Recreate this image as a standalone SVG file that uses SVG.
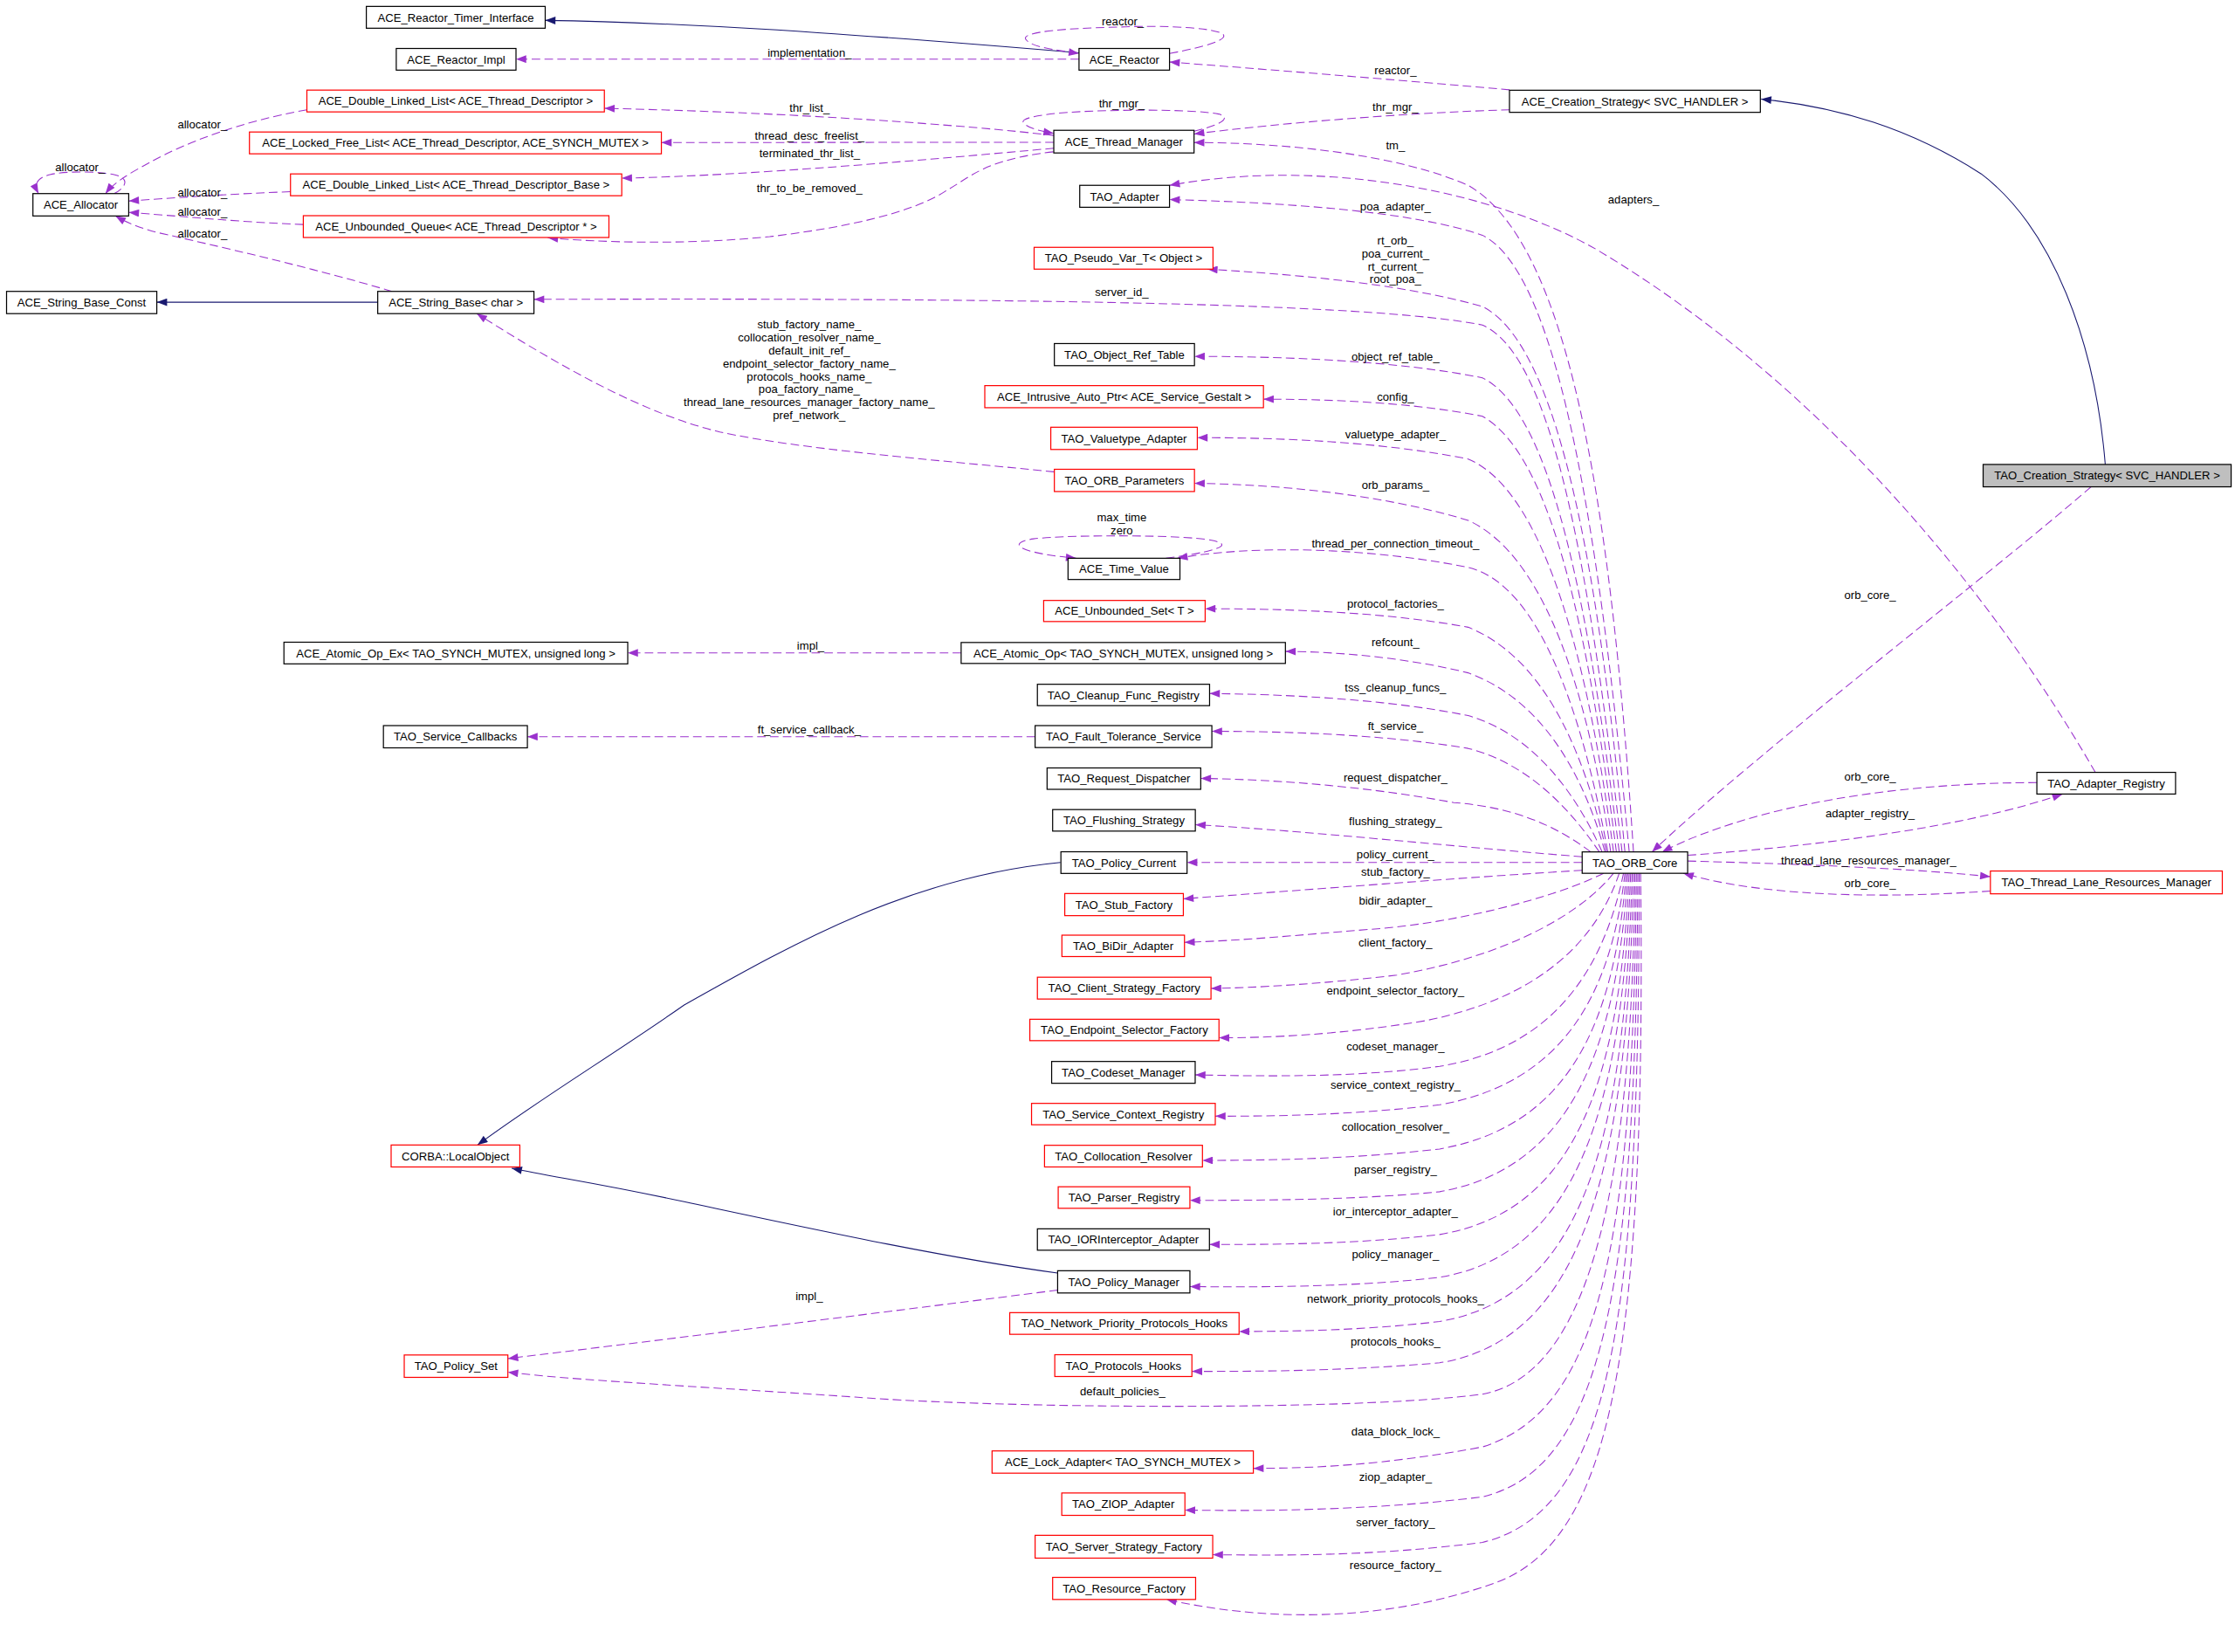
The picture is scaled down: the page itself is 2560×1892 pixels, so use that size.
<svg xmlns="http://www.w3.org/2000/svg" width="2560" height="1892" viewBox="0 0 2560 1892">
<defs>
<style>
.b{fill:#ffffff;stroke:#000000;stroke-width:0.75}
.r{fill:#ffffff;stroke:#ff0000;stroke-width:0.75}
.g{fill:#bfbfbf;stroke:#000000;stroke-width:0.75}
text{font-family:"Liberation Sans",Arial,sans-serif;font-size:8.05px;fill:#000000}
.t{text-anchor:middle}
.d{fill:none;stroke:#9a32cd;stroke-width:0.65;stroke-dasharray:6,3;marker-end:url(#ad)}
.s{fill:none;stroke:#191970;stroke-width:0.65;marker-end:url(#as)}
</style>
<marker id="ad" viewBox="0 0 8 6" refX="8" refY="3" markerWidth="8" markerHeight="5.4" markerUnits="userSpaceOnUse" orient="auto"><path d="M0,0 L8,3 L0,6 z" fill="#9a32cd"/></marker>
<marker id="as" viewBox="0 0 8 6" refX="8" refY="3" markerWidth="8" markerHeight="5.4" markerUnits="userSpaceOnUse" orient="auto"><path d="M0,0 L8,3 L0,6 z" fill="#191970"/></marker>
</defs>
<rect x="0" y="0" width="2560" height="1892" fill="#ffffff"/>
<g transform="scale(1.63265)">
<g id="connectors">
<path class="s" d="M757,37 C650,28 500,16 382.5,14.3"/>
<path class="s" d="M265,212 L110,212"/>
<path class="s" d="M1477,326 C1470,240 1440,160 1390,122 C1340,90 1290,75 1235.5,69.5"/>
<path class="s" d="M744,605 C640,615 560,660 480,705 C430,740 380,770 335,803.2"/>
<path class="s" d="M742,893 C660,882 560,860 480,843 C420,830 390,826 359,819.5"/>
<path class="d" d="M757,41.5 L362,41.5"/>
<path class="d" d="M820.5,37.5 C845,33 862,28 858,24 C850,18 800,18 785,19 C740,20 715,23 720,28 C724,33 740,35 757,37.5"/>
<path class="d" d="M1059,63 C980,56 880,48 820.5,43.5"/>
<path class="d" d="M1059,77 C990,79 900,86 837.7,94"/>
<path class="d" d="M837.7,92 C855,88 865,83 855,80 C840,77 800,77 785,77.5 C740,78 715,82 718,86 C721,90 730,92 739.3,93.5"/>
<path class="d" d="M739.3,95 C680,88 560,79 424,76"/>
<path class="d" d="M739.3,99.8 L464,100"/>
<path class="d" d="M739.3,104 C650,112 530,123 436.2,125"/>
<path class="d" d="M739,106.5 C690,112 680,125 665,133 C640,150 590,160 540,166 C480,172 420,170 384.3,166.8"/>
<path class="d" d="M1146,597.6 C1130,350 1100,170 1030,130 C980,108 900,100 837.7,100"/>
<path class="d" d="M215.3,77 C170,85 130,100 105,114 C90,122 80,128 74,135.8"/>
<path class="d" d="M80,135.8 C88,132 92,125 80,122.5 C68,120 45,120 35,122.5 C25,125 24,130 27,135.8"/>
<path class="d" d="M203.8,134.5 C160,136 120,139 90.3,141"/>
<path class="d" d="M212.8,157.5 C170,156 120,151 90.3,149"/>
<path class="d" d="M275,204.4 C220,188 150,172 110,163 C95,159 87,155 81,151.5"/>
<path class="d" d="M1470,541.8 C1400,420 1280,270 1120,175 C1050,135 930,110 820.5,130"/>
<path class="d" d="M1143,597.6 C1120,350 1090,190 1040,165 C990,148 900,142 820.5,140"/>
<path class="d" d="M1140,597.6 C1120,380 1090,240 1040,215 C980,198 900,192 847,188.8"/>
<path class="d" d="M1138,597.6 C1115,400 1090,250 1040,228 C960,212 700,209 374.6,210"/>
<path class="d" d="M739.7,331 C650,322 560,315 505,303 C450,290 390,255 334.5,220"/>
<path class="d" d="M1136,597.6 C1115,430 1090,290 1040,265 C980,253 900,250 838,250"/>
<path class="d" d="M1134,597.6 C1115,450 1090,320 1040,292 C990,282 930,280 886.4,280"/>
<path class="d" d="M1132,597.6 C1115,470 1085,345 1030,322 C970,310 900,307 840,307"/>
<path class="d" d="M1130,597.6 C1115,490 1085,390 1030,365 C970,347 900,340 838,339"/>
<path class="d" d="M1128,597.6 C1110,500 1080,410 1030,398 C960,384 880,382 826,391.6"/>
<path class="d" d="M818,391.6 C845,388 870,383 850,379 C830,375 750,375 725,378 C705,381 715,388 755,391.6"/>
<path class="d" d="M1127,597.6 C1110,520 1080,460 1030,440 C970,429 900,427 845.5,427"/>
<path class="d" d="M1126,597.6 C1110,540 1080,490 1030,472 C990,462 940,457 901.8,457"/>
<path class="d" d="M1124,597.6 C1105,555 1075,515 1030,502 C970,490 900,487 848.6,486.5"/>
<path class="d" d="M674.3,458 L440.4,458"/>
<path class="d" d="M1122,597.6 C1100,565 1070,535 1030,525 C970,515 900,513 850.2,513"/>
<path class="d" d="M726.2,516.8 L370,516.8"/>
<path class="d" d="M1116,597.6 C1090,578 1060,566 1020,563 C960,552 900,547 842.4,546"/>
<path class="d" d="M1110,601 C1020,594 920,583 838.6,578.5"/>
<path class="d" d="M1110,605 L832.8,605"/>
<path class="d" d="M1110,610.5 C1020,616 920,624 830.2,630.5"/>
<path class="d" d="M1125,612.6 C1090,630 1020,648 960,652 C910,656 870,660 831,661"/>
<path class="d" d="M1132,612.6 C1110,640 1060,670 980,684 C930,690 880,693 849.6,693.4"/>
<path class="d" d="M1136,612.6 C1120,660 1080,700 1000,716 C940,726 890,728 855.2,728"/>
<path class="d" d="M1139,612.6 C1125,680 1090,735 1010,748 C950,756 890,755 838.5,754"/>
<path class="d" d="M1140,612.6 C1130,700 1095,760 1010,775 C950,782 900,783 852.6,783"/>
<path class="d" d="M1141,612.6 C1132,720 1100,790 1010,806 C950,813 890,814 843.6,814"/>
<path class="d" d="M1142,612.6 C1134,740 1100,820 1010,836 C950,842 880,842 834.8,842"/>
<path class="d" d="M1143,612.6 C1136,760 1105,850 1010,866 C950,873 890,873 848.5,873"/>
<path class="d" d="M1144,612.6 C1138,780 1105,880 1010,896 C950,903 880,903 834.8,902.5"/>
<path class="d" d="M742,905 C640,918 480,938 356.3,953"/>
<path class="d" d="M1145,612.6 C1140,800 1110,910 1010,927 C960,933 910,934 869.3,934"/>
<path class="d" d="M1146,612.6 C1142,820 1110,940 1010,956 C940,962 880,962 836.2,962"/>
<path class="d" d="M1147,612.6 C1145,850 1110,965 1040,978 C950,990 700,988 600,980 C480,972 400,968 356.3,962.5"/>
<path class="d" d="M1148,612.6 C1146,880 1120,990 1040,1015 C970,1028 920,1030 879.3,1030"/>
<path class="d" d="M1149,612.6 C1148,900 1125,1030 1040,1050 C960,1060 880,1060 831.3,1059.3"/>
<path class="d" d="M1150,612.6 C1150,930 1130,1060 1040,1082 C960,1092 900,1091 850.8,1090.6"/>
<path class="d" d="M1151,612.6 C1155,950 1130,1080 1050,1110 C980,1135 900,1140 818.3,1122"/>
<path class="d" d="M1467,341.5 C1400,400 1230,530 1159,597.6"/>
<path class="d" d="M1429,549 C1330,549 1230,565 1166,597.6"/>
<path class="d" d="M1184,600 C1280,593 1380,580 1447,557"/>
<path class="d" d="M1184,604 C1260,606 1340,609 1396.4,615"/>
<path class="d" d="M1396.4,625 C1330,630 1240,630 1181,612.6"/>
<g id="edge-labels" class="t">
<text x="787.7" y="17.6">reactor_</text>
<text x="568" y="39.6">implementation_</text>
<text x="979" y="51.9">reactor_</text>
<text x="787" y="75.4">thr_mgr_</text>
<text x="568" y="78.7">thr_list_</text>
<text x="979" y="77.9">thr_mgr_</text>
<text x="568" y="98.2">thread_desc_freelist_</text>
<text x="979" y="104.9">tm_</text>
<text x="568" y="110.5">terminated_thr_list_</text>
<text x="568" y="134.9">thr_to_be_removed_</text>
<text x="142" y="90.3">allocator_</text>
<text x="56.2" y="119.9">allocator_</text>
<text x="142" y="137.6">allocator_</text>
<text x="142" y="151.5">allocator_</text>
<text x="142" y="166.8">allocator_</text>
<text x="1146" y="142.9">adapters_</text>
<text x="979" y="147.9">poa_adapter_</text>
<text x="979" y="171.8">rt_orb_</text>
<text x="979" y="180.9">poa_current_</text>
<text x="979" y="189.7">rt_current_</text>
<text x="979" y="198.7">root_poa_</text>
<text x="787" y="207.9">server_id_</text>
<text x="567.7" y="230.6">stub_factory_name_</text>
<text x="567.7" y="239.65">collocation_resolver_name_</text>
<text x="567.7" y="248.7">default_init_ref_</text>
<text x="567.7" y="257.75">endpoint_selector_factory_name_</text>
<text x="567.7" y="266.8">protocols_hooks_name_</text>
<text x="567.7" y="275.85">poa_factory_name_</text>
<text x="567.7" y="284.9">thread_lane_resources_manager_factory_name_</text>
<text x="567.7" y="293.95">pref_network_</text>
<text x="979" y="252.9">object_ref_table_</text>
<text x="979" y="281.3">config_</text>
<text x="979" y="307.2">valuetype_adapter_</text>
<text x="979" y="342.9">orb_params_</text>
<text x="787" y="365.9">max_time</text>
<text x="787" y="374.9">zero</text>
<text x="979" y="384.2">thread_per_connection_timeout_</text>
<text x="1312" y="419.9">orb_core_</text>
<text x="979" y="426.4">protocol_factories_</text>
<text x="568.7" y="455.5">impl_</text>
<text x="979" y="453.3">refcount_</text>
<text x="979" y="484.9">tss_cleanup_funcs_</text>
<text x="567.7" y="514.4">ft_service_callback_</text>
<text x="979" y="511.9">ft_service_</text>
<text x="1312" y="547.3">orb_core_</text>
<text x="979" y="548.3">request_dispatcher_</text>
<text x="1312" y="573.5">adapter_registry_</text>
<text x="979" y="579.1">flushing_strategy_</text>
<text x="979" y="601.9">policy_current_</text>
<text x="1311" y="606.3">thread_lane_resources_manager_</text>
<text x="979" y="614.6">stub_factory_</text>
<text x="1312" y="622.6">orb_core_</text>
<text x="979" y="634.5">bidir_adapter_</text>
<text x="979" y="663.9">client_factory_</text>
<text x="979" y="697.9">endpoint_selector_factory_</text>
<text x="979" y="736.6">codeset_manager_</text>
<text x="979" y="763.9">service_context_registry_</text>
<text x="979" y="792.9">collocation_resolver_</text>
<text x="979" y="822.9">parser_registry_</text>
<text x="979" y="852.7">ior_interceptor_adapter_</text>
<text x="979" y="882.9">policy_manager_</text>
<text x="567.7" y="911.9">impl_</text>
<text x="979" y="913.7">network_priority_protocols_hooks_</text>
<text x="979" y="943.9">protocols_hooks_</text>
<text x="787.6" y="978.9">default_policies_</text>
<text x="979" y="1006.7">data_block_lock_</text>
<text x="979" y="1038.9">ziop_adapter_</text>
<text x="979" y="1070.9">server_factory_</text>
<text x="979" y="1100.9">resource_factory_</text>
</g>
</g>
<g id="nodes" class="t">
<g id="n_timer"><rect class="b" x="257" y="4.5" width="125.5" height="15.3"/><text x="319.75" y="15.05">ACE_Reactor_Timer_Interface</text></g>
<g id="n_rimpl"><rect class="b" x="278" y="34" width="84" height="15.2"/><text x="320" y="44.5">ACE_Reactor_Impl</text></g>
<g id="n_reactor"><rect class="b" x="757" y="34" width="63.5" height="15.2"/><text x="788.75" y="44.5">ACE_Reactor</text></g>
<g id="n_dll"><rect class="r" x="215.3" y="63.2" width="208.7" height="15.3"/><text x="319.65" y="73.75">ACE_Double_Linked_List&lt; ACE_Thread_Descriptor &gt;</text></g>
<g id="n_lfl"><rect class="r" x="175" y="92.6" width="289" height="15.3"/><text x="319.5" y="103.15">ACE_Locked_Free_List&lt; ACE_Thread_Descriptor, ACE_SYNCH_MUTEX &gt;</text></g>
<g id="n_tm"><rect class="b" x="739.3" y="91.4" width="98.4" height="15.9"/><text x="788.5" y="102.25">ACE_Thread_Manager</text></g>
<g id="n_acs"><rect class="b" x="1059" y="63.3" width="176" height="15.5"/><text x="1147" y="73.95">ACE_Creation_Strategy&lt; SVC_HANDLER &gt;</text></g>
<g id="n_dllb"><rect class="r" x="203.8" y="122" width="232.4" height="15.3"/><text x="320" y="132.55">ACE_Double_Linked_List&lt; ACE_Thread_Descriptor_Base &gt;</text></g>
<g id="n_alloc"><rect class="b" x="23.1" y="135.8" width="67.2" height="15.7"/><text x="56.7" y="146.55">ACE_Allocator</text></g>
<g id="n_queue"><rect class="r" x="212.8" y="151.3" width="214.4" height="15.3"/><text x="320" y="161.85">ACE_Unbounded_Queue&lt; ACE_Thread_Descriptor * &gt;</text></g>
<g id="n_adapter"><rect class="b" x="757.5" y="130" width="63" height="15.4"/><text x="789" y="140.6">TAO_Adapter</text></g>
<g id="n_pseudo"><rect class="r" x="725.5" y="173.5" width="125.5" height="15.3"/><text x="788.25" y="184.05">TAO_Pseudo_Var_T&lt; Object &gt;</text></g>
<g id="n_sbc"><rect class="b" x="4.6" y="204.4" width="105.4" height="15.6"/><text x="57.3" y="215.1">ACE_String_Base_Const</text></g>
<g id="n_sb"><rect class="b" x="265" y="204.4" width="109.6" height="15.6"/><text x="319.8" y="215.1">ACE_String_Base&lt; char &gt;</text></g>
<g id="n_ort"><rect class="b" x="739.7" y="241" width="98.3" height="15.5"/><text x="788.85" y="251.65">TAO_Object_Ref_Table</text></g>
<g id="n_iap"><rect class="r" x="690.9" y="270.5" width="195.5" height="15.5"/><text x="788.65" y="281.15">ACE_Intrusive_Auto_Ptr&lt; ACE_Service_Gestalt &gt;</text></g>
<g id="n_vta"><rect class="r" x="737.2" y="299.7" width="102.8" height="15.6"/><text x="788.6" y="310.4">TAO_Valuetype_Adapter</text></g>
<g id="n_orbp"><rect class="r" x="739.7" y="329.2" width="98.3" height="15.6"/><text x="788.85" y="339.9">TAO_ORB_Parameters</text></g>
<g id="n_tcs"><rect class="g" x="1391.3" y="325.8" width="174" height="15.7"/><text x="1478.3" y="336.55">TAO_Creation_Strategy&lt; SVC_HANDLER &gt;</text></g>
<g id="n_tv"><rect class="b" x="749.3" y="391.6" width="78.5" height="14.9"/><text x="788.55" y="401.95">ACE_Time_Value</text></g>
<g id="n_us"><rect class="r" x="732.2" y="421.2" width="113.3" height="14.8"/><text x="788.85" y="431.5">ACE_Unbounded_Set&lt; T &gt;</text></g>
<g id="n_aox"><rect class="b" x="199.2" y="450.5" width="241.2" height="15.2"/><text x="319.8" y="461">ACE_Atomic_Op_Ex&lt; TAO_SYNCH_MUTEX, unsigned long &gt;</text></g>
<g id="n_ao"><rect class="b" x="674.3" y="450.7" width="227.5" height="14.7"/><text x="788.05" y="461">ACE_Atomic_Op&lt; TAO_SYNCH_MUTEX, unsigned long &gt;</text></g>
<g id="n_cfr"><rect class="b" x="727.8" y="480" width="120.8" height="15"/><text x="788.2" y="490.4">TAO_Cleanup_Func_Registry</text></g>
<g id="n_scb"><rect class="b" x="269" y="509" width="101" height="15.6"/><text x="319.5" y="519.7">TAO_Service_Callbacks</text></g>
<g id="n_fts"><rect class="b" x="726.2" y="509" width="124" height="15.4"/><text x="788.2" y="519.6">TAO_Fault_Tolerance_Service</text></g>
<g id="n_rd"><rect class="b" x="734.6" y="538.7" width="107.8" height="15"/><text x="788.5" y="549.1">TAO_Request_Dispatcher</text></g>
<g id="n_fs"><rect class="b" x="738.5" y="567.9" width="100.1" height="15.1"/><text x="788.55" y="578.35">TAO_Flushing_Strategy</text></g>
<g id="n_ar"><rect class="b" x="1429" y="541.8" width="97.3" height="15.2"/><text x="1477.65" y="552.3">TAO_Adapter_Registry</text></g>
<g id="n_pc"><rect class="b" x="744.3" y="597.5" width="88.5" height="15.2"/><text x="788.55" y="608">TAO_Policy_Current</text></g>
<g id="n_orb"><rect class="b" x="1110" y="597.6" width="74" height="15"/><text x="1147" y="608">TAO_ORB_Core</text></g>
<g id="n_tlrm"><rect class="r" x="1396.4" y="611" width="162.7" height="16"/><text x="1477.75" y="621.9">TAO_Thread_Lane_Resources_Manager</text></g>
<g id="n_stub"><rect class="r" x="747" y="626.8" width="83.2" height="15.5"/><text x="788.6" y="637.45">TAO_Stub_Factory</text></g>
<g id="n_bidir"><rect class="r" x="745" y="656" width="86" height="15"/><text x="788" y="666.4">TAO_BiDir_Adapter</text></g>
<g id="n_csf"><rect class="r" x="727.8" y="685.5" width="121.8" height="15.3"/><text x="788.7" y="696.05">TAO_Client_Strategy_Factory</text></g>
<g id="n_esf"><rect class="r" x="722.5" y="715" width="132.7" height="15"/><text x="788.85" y="725.4">TAO_Endpoint_Selector_Factory</text></g>
<g id="n_cm"><rect class="b" x="737.8" y="744.6" width="100.7" height="15.3"/><text x="788.15" y="755.15">TAO_Codeset_Manager</text></g>
<g id="n_scr"><rect class="r" x="723.7" y="774" width="128.9" height="15"/><text x="788.15" y="784.4">TAO_Service_Context_Registry</text></g>
<g id="n_lo"><rect class="r" x="274.4" y="803.2" width="90.3" height="15.4"/><text x="319.55" y="813.8">CORBA::LocalObject</text></g>
<g id="n_cr"><rect class="r" x="732.8" y="803.4" width="110.8" height="15.2"/><text x="788.2" y="813.9">TAO_Collocation_Resolver</text></g>
<g id="n_pr"><rect class="r" x="742.4" y="832.5" width="92.4" height="15.1"/><text x="788.6" y="842.95">TAO_Parser_Registry</text></g>
<g id="n_ior"><rect class="b" x="727.8" y="862" width="120.7" height="15"/><text x="788.15" y="872.4">TAO_IORInterceptor_Adapter</text></g>
<g id="n_pm"><rect class="b" x="742" y="891.4" width="92.8" height="15.6"/><text x="788.4" y="902.1">TAO_Policy_Manager</text></g>
<g id="n_npph"><rect class="r" x="708.4" y="920.8" width="160.9" height="15.2"/><text x="788.85" y="931.3">TAO_Network_Priority_Protocols_Hooks</text></g>
<g id="n_ps"><rect class="r" x="283.6" y="950.5" width="72.7" height="15.7"/><text x="319.95" y="961.25">TAO_Policy_Set</text></g>
<g id="n_ph"><rect class="r" x="740" y="950.3" width="96.2" height="15.3"/><text x="788.1" y="960.85">TAO_Protocols_Hooks</text></g>
<g id="n_la"><rect class="r" x="696" y="1017.8" width="183.3" height="15.6"/><text x="787.65" y="1028.5">ACE_Lock_Adapter&lt; TAO_SYNCH_MUTEX &gt;</text></g>
<g id="n_ziop"><rect class="r" x="744.9" y="1047.3" width="86.4" height="15.7"/><text x="788.1" y="1058.05">TAO_ZIOP_Adapter</text></g>
<g id="n_ssf"><rect class="r" x="726.2" y="1077" width="124.6" height="16"/><text x="788.5" y="1087.9">TAO_Server_Strategy_Factory</text></g>
<g id="n_rf"><rect class="r" x="738.5" y="1106.5" width="100.3" height="15.5"/><text x="788.65" y="1117.15">TAO_Resource_Factory</text></g>
</g>
</g>
</svg>
